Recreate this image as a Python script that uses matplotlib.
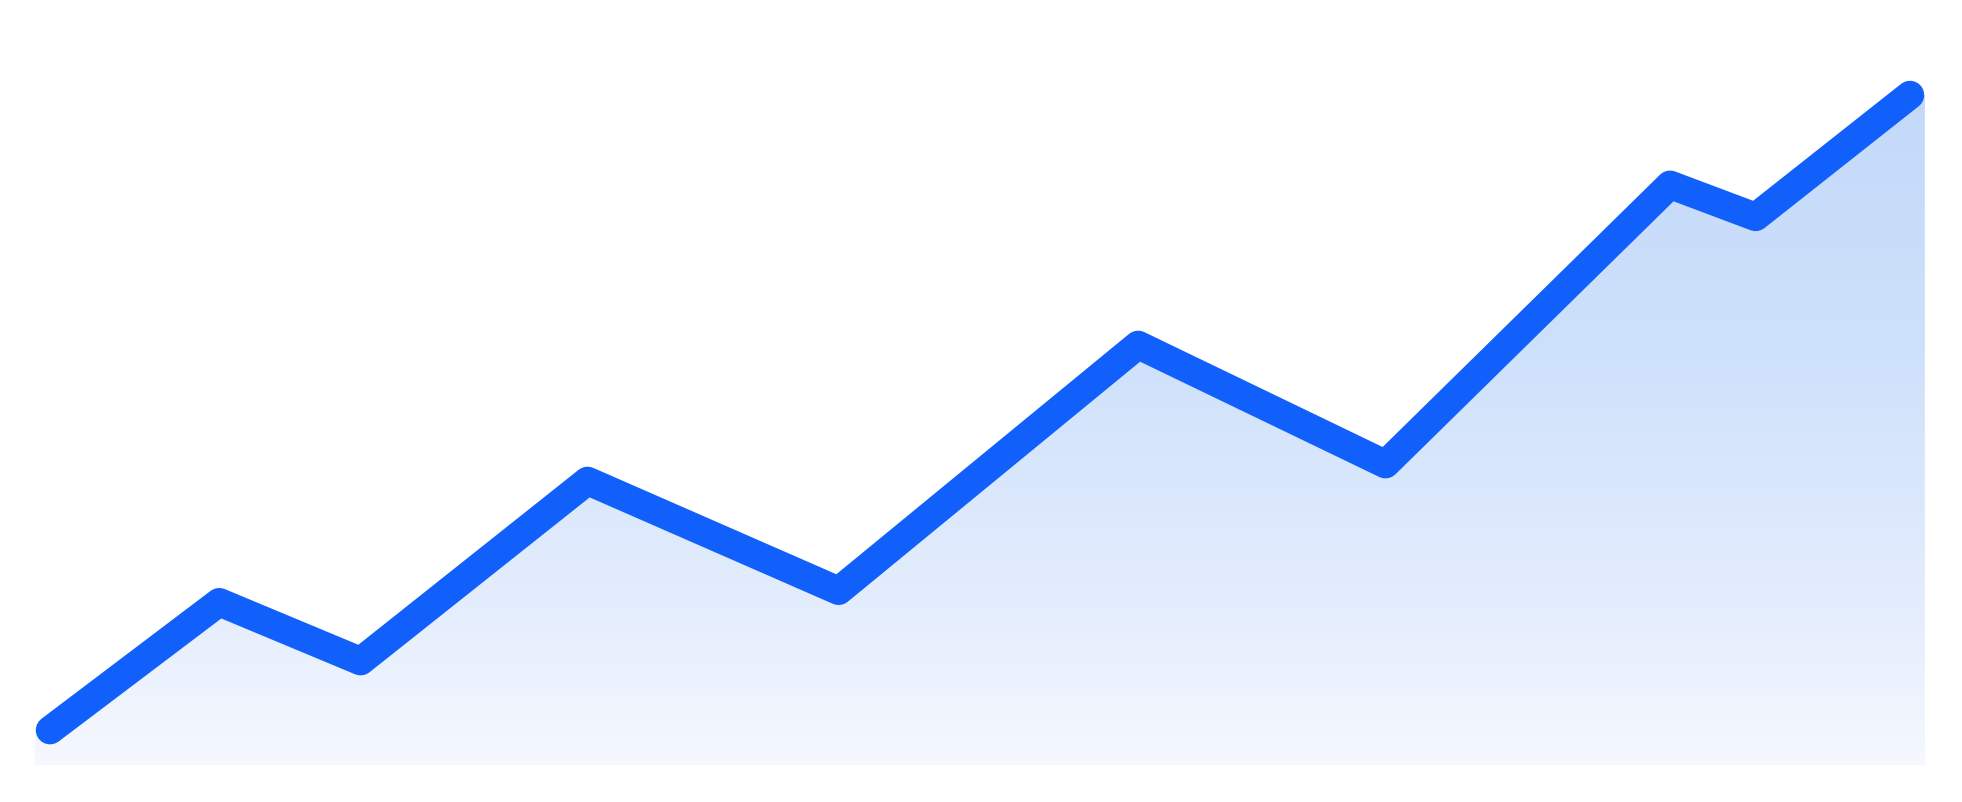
import numpy as np
import matplotlib
matplotlib.use('Agg')
import matplotlib.pyplot as plt
from matplotlib.colors import LinearSegmentedColormap

# series values (x = position along the period, y = value)
x_vals = [0, 9.1, 16.7, 28.9, 42.4, 58.5, 71.8, 87.1, 91.7, 100]
y_vals = [5.2, 24.3, 15.5, 42.4, 26.0, 62.7, 44.9, 86.6, 81.8, 100]

line_color = '#1160fb'
# vertical gradient for the area under the line, bottom -> top
grad_stops = [(0.00, (245/255, 248/255, 254/255)),
              (0.24, (228/255, 237/255, 253/255)),
              (0.42, (217/255, 231/255, 252/255)),
              (0.61, (206/255, 225/255, 251/255)),
              (1.00, (195/255, 217/255, 250/255))]
grad_cmap = LinearSegmentedColormap.from_list('area', grad_stops)

fig = plt.figure(figsize=(19.62, 8.02), dpi=100)
fig.patch.set_facecolor('white')
ax = fig.add_axes([0, 0, 1, 1])
ax.set_facecolor('white')
ax.axis('off')

# area is a bit wider than the line ends (covers the round caps)
pad = 0.8
fx = [x_vals[0] - pad] + x_vals + [x_vals[-1] + pad]
fy = [y_vals[0]] + y_vals + [y_vals[-1]]
area = ax.fill_between(fx, fy, 0, facecolor='none', edgecolor='none')

top = 102
grad = np.linspace(0, 1, 256).reshape(-1, 1)
im = ax.imshow(grad, cmap=grad_cmap, origin='lower', aspect='auto',
               extent=[fx[0], fx[-1], 0, top], zorder=1, interpolation='bilinear')
im.set_clip_path(area.get_paths()[0], transform=ax.transData)

ax.plot(x_vals, y_vals, color=line_color, lw=20.5,
        solid_capstyle='round', solid_joinstyle='round', zorder=3)

ax.set_xlim(-2.688, 102.796)
ax.set_ylim(-5.522, 114.179)

fig.savefig('out.png', dpi=100, facecolor='white')
